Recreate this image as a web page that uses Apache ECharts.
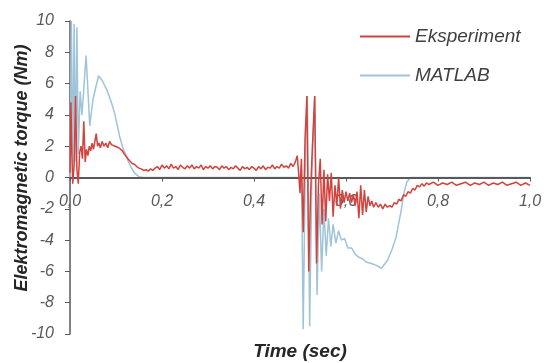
<!DOCTYPE html>
<html><head><meta charset="utf-8">
<script src="https://cdn.jsdelivr.net/npm/echarts@6/dist/echarts.min.js"></script>
<style>html,body{margin:0;padding:0;background:#fff}#c{width:546px;height:363px}</style>
</head><body><div id="c"></div>
<script>
var seriesNames = ["Eksperiment", "MATLAB"];
var xTicks = [0, 0.2, 0.4, 0.6, 0.8, 1.0];
var yTicks = [-10, -8, -6, -4, -2, 0, 2, 4, 6, 8, 10];
var xTitle = "Time (sec)";
var yTitle = "Elektromagnetic torque (Nm)";

var expTime = [0,0.002,0.004,0.006,0.009,0.012,0.015,0.018,0.021,0.024,0.027,0.030,0.033,0.036,0.039,0.042,0.045,0.048,0.051,0.054,0.057,0.060,0.063,0.066,0.070,0.074,0.078,0.082,0.086,0.090,0.094,0.098,0.102,0.106,0.110,0.114,0.118,0.122,0.126,0.130,0.135,0.140,0.145,0.150,0.155,0.160,0.165,0.170,0.175,0.180,0.185,
0.190,0.195,0.200,0.205,0.210,0.215,0.220,0.225,0.230,0.235,0.240,0.245,0.250,0.255,0.260,0.265,0.270,0.275,0.280,0.285,0.290,0.295,0.300,0.305,0.310,0.315,0.320,0.325,0.330,0.335,0.340,0.345,0.350,0.355,0.360,0.365,0.370,0.375,0.380,0.385,0.390,0.395,0.400,0.405,0.410,0.415,0.420,0.425,0.430,0.435,0.440,0.445,0.450,0.455,0.460,0.465,0.470,0.475,0.480,0.485,0.490,0.494,0.497,0.500,
0.503,0.507,0.511,0.515,0.519,0.523,0.527,0.532,0.536,0.540,0.544,0.548,0.552,0.556,0.560,0.564,0.568,0.572,0.576,0.580,0.584,0.588,0.592,0.596,0.600,0.604,0.608,0.612,0.616,0.620,0.624,0.628,0.632,0.636,0.640,0.644,0.648,0.652,0.656,0.660,0.665,0.670,0.675,0.680,0.685,0.690,0.695,0.700,0.705,0.710,0.715,0.720,0.725,0.730,0.735,0.740,0.745,0.750,0.755,0.760,0.765,0.770,0.775,
0.780,0.790,0.800,0.810,0.820,0.830,0.840,0.850,0.860,0.870,0.880,0.890,0.900,0.910,0.920,0.930,0.940,0.950,0.960,0.970,0.980,0.990,1.000];
var expTorque = [0.3,4.8,1.5,-0.4,0.8,5.2,0.5,-0.4,1.6,2.0,1.2,3.6,1.0,1.8,1.4,2.0,1.7,2.2,1.8,2.3,2.8,2.0,2.2,1.9,2.3,2.0,2.2,1.9,2.3,2.1,2.2,2.0,2.1,1.9,1.8,1.7,1.5,1.4,1.2,1.1,0.9,0.85,0.7,0.6,0.55,0.45,0.5,0.4,0.55,0.45,0.6,
0.7,0.5,0.8,0.6,0.75,0.55,0.85,0.6,0.7,0.5,0.8,0.65,0.55,0.75,0.6,0.8,0.55,0.7,0.6,0.8,0.5,0.7,0.6,0.75,0.55,0.7,0.65,0.5,0.75,0.6,0.7,0.5,0.65,0.55,0.75,0.6,0.45,0.7,0.55,0.65,0.5,0.7,0.6,0.45,0.7,0.55,0.75,0.5,0.65,0.6,0.8,0.55,0.7,0.6,0.85,0.65,0.75,0.6,0.9,0.7,1.0,1.4,0.3,-1.0,
1.2,-3.5,2.5,5.2,-6.0,-1.0,2.0,5.2,-5.5,-0.5,1.2,-3.0,0.5,-2.8,0.2,-1.5,0.3,-2.5,-0.5,-1.8,0.0,-2.0,-0.8,-1.6,-0.9,-1.5,-1.0,-1.6,-1.1,-1.8,-0.9,-2.6,-0.5,-2.4,-0.8,-2.2,-1.2,-1.8,-1.5,-1.9,-1.6,-1.9,-1.7,-2.0,-1.7,-1.9,-1.8,-1.9,-1.6,-1.7,-1.4,-1.5,-1.1,-1.2,-0.9,-1.0,-0.7,-0.8,-0.5,-0.6,-0.4,-0.55,-0.35,
-0.45,-0.3,-0.5,-0.35,-0.45,-0.3,-0.5,-0.4,-0.3,-0.5,-0.35,-0.45,-0.3,-0.5,-0.35,-0.45,-0.3,-0.5,-0.4,-0.3,-0.5,-0.35,-0.5];

var matTime = [0,0.003,0.006,0.009,0.012,0.015,0.018,0.022,0.026,0.035,0.043,0.050,0.062,0.070,0.080,0.090,0.097,0.103,0.108,0.115,0.123,0.130,0.140,0.150,0.160,0.500,
0.503,0.507,0.512,0.516,0.521,0.526,0.532,0.537,0.542,0.547,0.552,0.557,0.562,0.567,0.572,0.578,0.584,0.590,0.597,0.604,0.612,0.620,0.628,0.636,0.644,0.655,0.665,0.677,0.690,0.700,0.709,0.720,0.726,0.732,0.740,1.000];
var matTorque = [0,10,0.5,9.8,1.0,9.6,1.5,5.5,4.0,7.8,3.3,5.0,6.5,6.2,5.6,4.8,4.1,3.3,2.6,1.9,1.3,0.8,0.3,0.05,0,0,
0.8,-9.7,2.0,5.2,-9.5,0.5,5.2,-7.5,-1.0,-6.0,-2.0,-5.0,-2.6,-4.4,-3.0,-4.2,-3.4,-4.0,-3.9,-4.5,-4.5,-4.9,-5.1,-5.2,-5.4,-5.5,-5.6,-5.8,-5.3,-4.6,-3.8,-2.1,-1.0,-0.3,0,0];

var expData = expTime.map(function(t,i){return [t, expTorque[i]];});
var matData = matTime.map(function(t,i){return [t, matTorque[i]];});

var gridTop = 21, gridBottom = 29, chartH = 363;
var plotH = chartH - gridTop - gridBottom;
var zeroOffset = -plotH / 2; // move x axis (line, ticks, labels) up to y = 0

var chart = echarts.init(document.getElementById('c'), null, {renderer:'canvas'});
var labelStyle = {color:'#595959', fontStyle:'italic', fontSize:16, fontFamily:'Liberation Sans'};
chart.setOption({
  animation:false,
  backgroundColor:'#fff',
  grid:{left:70, right:16, top:gridTop, bottom:gridBottom},
  legend:{
    orient:'vertical', left:355, top:22, itemWidth:50, itemHeight:2, itemGap:20,
    icon:'rect', data:seriesNames,
    textStyle:{color:'#404040', fontStyle:'italic', fontSize:19, fontFamily:'Liberation Sans'}
  },
  xAxis:{
    type:'value', min:xTicks[0], max:xTicks[xTicks.length-1], interval:0.2, z:2,
    offset:zeroOffset,
    axisLine:{onZero:false, lineStyle:{color:'#595959', width:2}},
    axisTick:{show:true, length:4, lineStyle:{color:'#595959'}},
    splitLine:{show:false},
    axisLabel:Object.assign({margin:16, formatter:function(v){return v.toFixed(1).replace('.', ',');}}, labelStyle)
  },
  yAxis:{
    type:'value', min:yTicks[0], max:yTicks[yTicks.length-1], interval:2,
    axisLine:{show:true, onZero:false, lineStyle:{color:'#595959', width:1.5}},
    axisTick:{show:true, length:5, lineStyle:{color:'#595959'}},
    splitLine:{show:false},
    axisLabel:Object.assign({margin:16}, labelStyle)
  },
  graphic:[
    {type:'text', position:[300,352], style:{text:xTitle, x:0, y:0, textAlign:'center', textVerticalAlign:'middle', fill:'#262626', font:'italic bold 19px "Liberation Sans"'}},
    {type:'text', position:[22,168], rotation:Math.PI/2, style:{text:yTitle, x:0, y:0, textAlign:'center', textVerticalAlign:'middle', fill:'#262626', font:'italic bold 18px "Liberation Sans"'}}
  ],
  series:[
    {name:seriesNames[0], type:'line', data:expData, showSymbol:false, symbol:'none', z:3, color:'#d2433e', lineStyle:{width:1.5, color:'#d2433e'}},
    {name:seriesNames[1], type:'line', data:matData, showSymbol:false, symbol:'none', z:1, color:'#9fc4d8', lineStyle:{width:1.5, color:'#9fc4d8'}}
  ]
});
</script></body></html>
